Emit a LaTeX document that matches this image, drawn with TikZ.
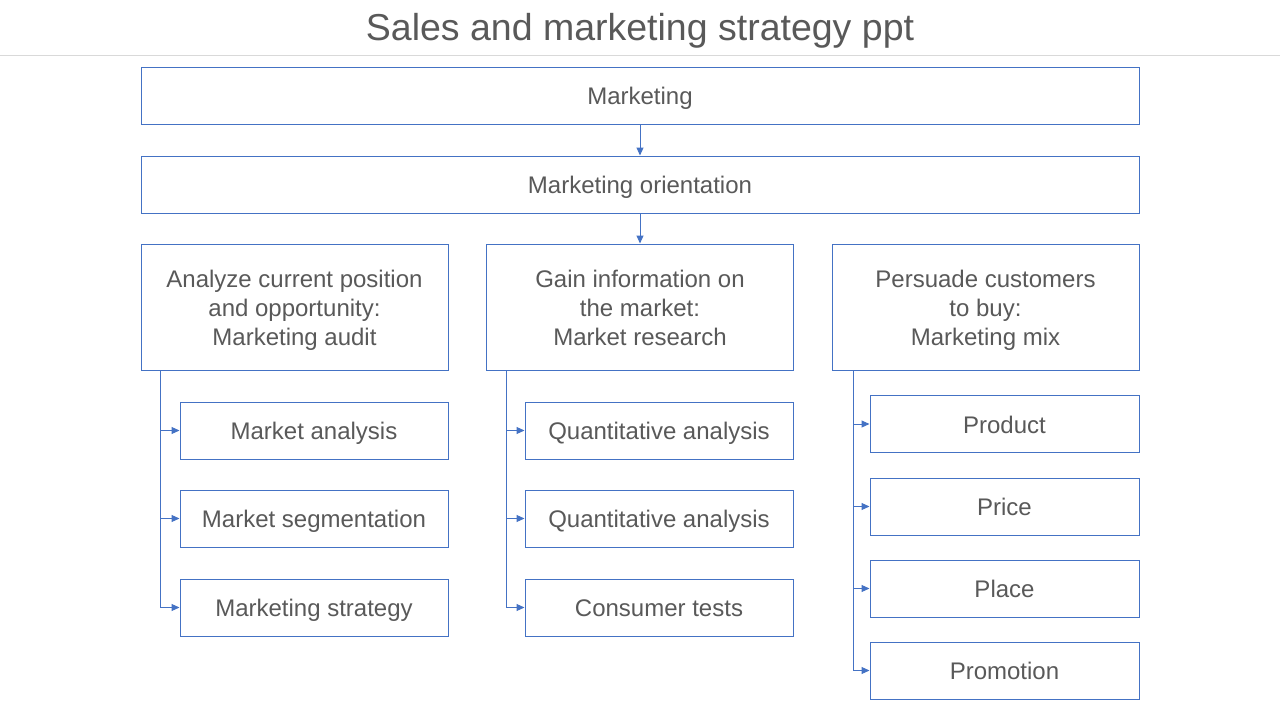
\documentclass[tikz,border=0pt]{standalone}
\usepackage{fontspec}
\setmainfont{Liberation Sans}
\usetikzlibrary{arrows.meta}
\definecolor{boxblue}{HTML}{4472C4}
\definecolor{txtgray}{HTML}{595959}
\definecolor{rulegray}{HTML}{D9D9D9}
\begin{document}
\begin{tikzpicture}[x=1pt,y=-1pt,
  box/.style={draw=boxblue,line width=1pt,fill=white,text=txtgray,inner sep=0pt,
    font=\fontsize{24}{29}\selectfont,align=center},
  wide/.style={box,minimum width=998pt,minimum height=57pt,text height=18pt,text depth=0pt},
  colbox/.style={box,minimum width=307pt,minimum height=126pt,text height=76pt,text depth=0pt},
  subbox/.style={box,minimum width=268pt,minimum height=57pt,text height=18pt,text depth=0pt},
  conn/.style={draw=boxblue,line width=1pt,-{Triangle[length=8pt,width=7pt]}}]
\useasboundingbox (0,0) rectangle (1280,720);
\node[text=txtgray,font=\fontsize{37.5}{44}\selectfont] (title) at (640,31) {Sales and marketing strategy ppt};
\coordinate (rl) at (0,55);
\coordinate (rr) at (1280,55);
\draw[rulegray,line width=1pt] (rl) -- (rr);

\node[wide] (mk) at (640,95.5) {Marketing};
\node[wide] (mo) at (640,184.5) {Marketing orientation};
\node[colbox] (c1) at (294.5,307) {Analyze current position\\and opportunity:\\Marketing audit};
\node[colbox] (c2) at (640,307) {Gain information on\\the market:\\Market research};
\node[colbox] (c3) at (985.5,307) {Persuade customers\\to buy:\\Marketing mix};

\node[subbox] (a1) at (314,430.5) {Market analysis};
\node[subbox] (a2) at (314,518.5) {Market segmentation};
\node[subbox] (a3) at (314,607.5) {Marketing strategy};

\node[subbox] (b1) at (659,430.5) {Quantitative analysis};
\node[subbox] (b2) at (659,518.5) {Quantitative analysis};
\node[subbox] (b3) at (659,607.5) {Consumer tests};

\node[subbox,minimum width=269pt] (d1) at (1004.5,424) {Product};
\node[subbox,minimum width=269pt] (d2) at (1004.5,506.5) {Price};
\node[subbox,minimum width=269pt] (d3) at (1004.5,588.5) {Place};
\node[subbox,minimum width=269pt] (d4) at (1004.5,670.5) {Promotion};

\draw[conn] (mk.south) -- (mo.north);
\draw[conn] (mo.south) -- (c2.north);

\foreach \s in {a1,a2,a3} \draw[conn] ([xshift=20pt]c1.south west) |- (\s.west);
\foreach \s in {b1,b2,b3} \draw[conn] ([xshift=20pt]c2.south west) |- (\s.west);
\foreach \s in {d1,d2,d3,d4} \draw[conn] ([xshift=22pt]c3.south west) |- (\s.west);
\end{tikzpicture}
\end{document}
